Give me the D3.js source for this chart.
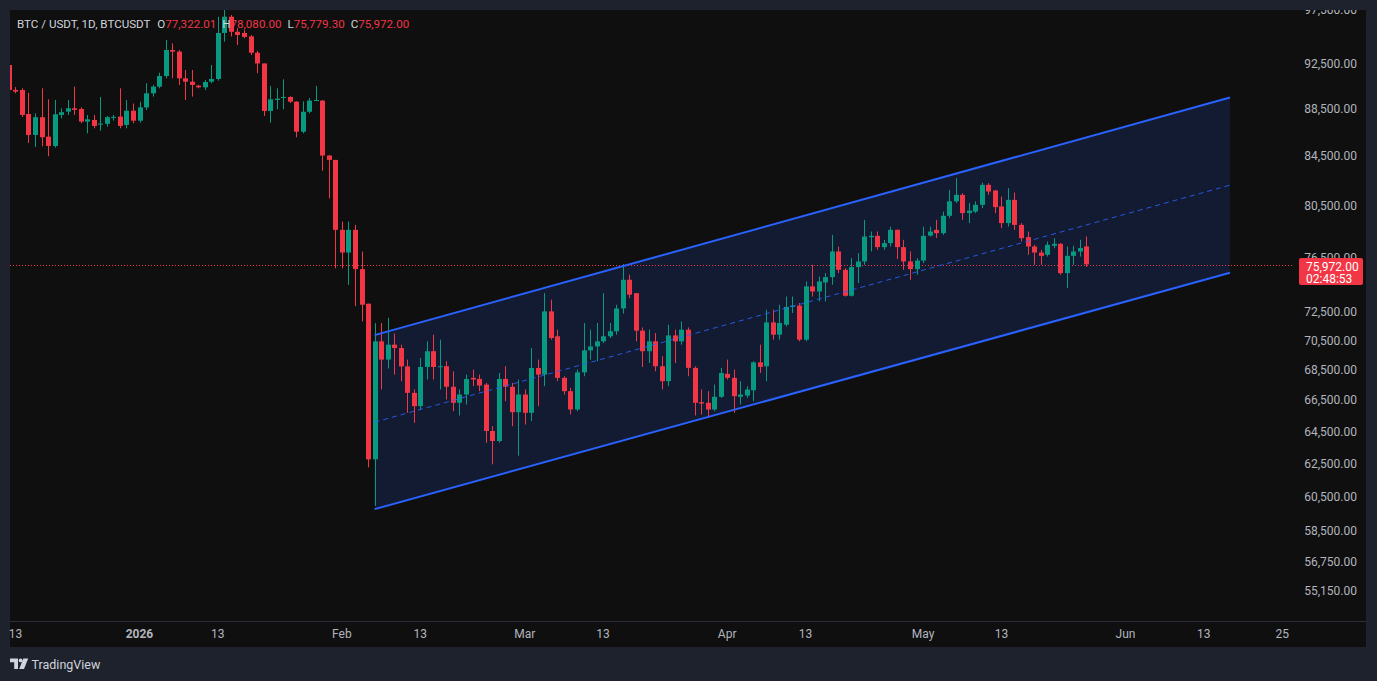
<!DOCTYPE html>
<html><head><meta charset="utf-8">
<script src="https://cdn.jsdelivr.net/npm/d3@7"></script>
<style>html,body{margin:0;padding:0;background:#1e222d;overflow:hidden}</style>
</head><body><svg id="c" width="1377" height="681"></svg>
<script>
// ---------- DATA ----------
const symbolTitle = "BTC / USDT, 1D, BTCUSDT";
const legendLetters = ["O", "H", "L", "C"];
const legendValues = ["77,322.01", "78,080.00", "75,779.30", "75,972.00"];
const firstDay = "2025-12-12";
// daily candles [open, high, low, close]
const dec2025 = [
[92380,92600,89950,90145],[90150,90400,89850,90000],[90145,90300,87800,87965],[88050,89900,85580,86255],
[86255,88100,85250,87770],[87770,90290,85300,86060],[86110,89320,84470,85330],[85330,89265,85190,88020],
[87965,88540,87680,88200],[88250,89265,87965,88540],[88540,90440,87965,88400],[88480,88620,87250,87390],
[87390,87965,86400,87590],[87535,87965,86820,87020],[87130,89530,86620,87220],[87200,87880,86970,87770],
[87740,87965,87480,87800],[87820,90290,86820,87020],[87105,89265,86820,88330],[88330,88950,87250,87470]];
const jan2026 = [
[87470,89120,87300,88620],[88620,90740,88395,89850],[89850,90590,89560,90440],[90440,91690,90290,91390],
[91390,94670,91180,93750],[93750,94360,91180,93600],[93600,93750,90590,91180],[91180,91930,89265,90880],
[90880,91930,89560,90590],[90530,90590,90290,90380],[90380,91030,90145,90850],[90880,92380,90740,91120],
[91120,96860,90970,95330],[95330,97500,94520,96860],[96860,97020,95010,95440],[95440,95770,94210,95140],
[95330,95600,94830,94960],[95010,95140,93290,93500],[93500,93680,91640,92520],[92520,92520,87880,88310],
[88310,90500,87300,89320],[89265,90290,88450,89380],[89440,91090,88450,89530],[89530,89590,89000,89120],
[89120,89150,86060,86530],[86530,89150,86400,88240],[88240,89440,88100,89210],[89210,90500,89150,89265],
[89210,89265,83280,84530],[84530,84580,81060,84170],[84170,84170,75680,78590]];
const feb2026 = [
[78590,79230,75680,76860],[76860,79230,74470,78590],[78590,78975,72930,75620],[75620,76940,71840,73025],
[73100,73100,62260,62750],[62750,71730,59950,70450],[70450,71730,67200,69200],[69200,72100,68600,70220],
[70220,71000,68190,69990],[69990,70220,67750,68740],[68740,69200,65680,66980],[66980,67200,65040,66110],
[66110,69310,65895,68700],[68700,70450,67860,69770],[69770,70910,67860,68700],[68700,70565,67200,68750],
[68750,69090,66545,67380],[67380,68410,65790,66330],[66330,67200,65510,66870],[66870,68190,66220,67900],
[67970,68525,67420,67860],[67900,68190,67090,67460],[67525,67640,63780,64520],[64520,64830,62445,63890],
[63890,68300,63780,67900],[67900,68750,66435,67380],[67380,67640,64830,65720],[65720,67860,62980,66870]];
const mar2026 = [
[66870,67200,64935,65680],[65680,69990,65150,68630],[68630,69200,66110,68190],[68190,73860,67420,72550],
[72550,73385,70565,70680],[70800,71260,67750,67970],[67970,68080,66870,67090],[67090,67310,65575,65895],
[65895,68525,65790,68340],[68340,71730,68080,69830],[69830,71260,69200,70100],[70100,71730,69090,70450],
[70450,73860,70330,70800],[70800,71730,70680,71150],[71150,73025,70910,72760],[72760,76000,72400,74835],
[74835,75200,73500,73745],[73860,73860,70450,71190],[71190,71420,68700,69770],[69770,71260,68970,70450],
[70450,71030,68410,68750],[68750,69430,67200,67750],[67750,71610,67420,70860],[70860,71260,68970,70450],
[70450,71840,70220,71260],[71260,71420,68080,68640],[68640,68750,65510,66330],[66370,67200,65575,66280],
[66330,67090,65360,65895],[65895,67525,65790,66720],[66720,68640,66650,68300]];
const apr2026 = [
[68240,69200,67860,67970],[67970,68525,65680,66760],[66720,67750,66220,66870],[66800,67420,66650,67200],
[67150,69085,66430,69015],[69015,70220,68300,68705],[68745,72670,67750,71770],[71770,72670,70565,70910],
[70910,73025,70565,71730],[71610,73620,71490,72870],[72870,73620,72440,72960],[72960,73150,70450,70565],
[70565,74710,70450,74350],[74350,75940,73620,73980],[73980,75075,73265,74710],[74640,75325,73265,75030],
[75030,78205,74470,76940],[76940,77315,75325,75570],[75570,75695,73620,73670],[73670,76440,73620,75770],
[75770,76820,74590,76190],[76190,79365,75940,78075],[78025,78460,76940,78130],[78130,78460,77065,77270],
[77270,77825,77065,77575],[77575,78840,77315,78590],[78590,78640,76370,77270],[77270,77825,75570,76190],
[76190,76940,74835,75620],[75620,76440,75200,76260]];
const may2026 = [
[76260,78840,76065,78130],[78150,78840,78075,78460],[78590,79365,77970,78335],[78335,80010,78205,79680],
[79680,81730,79500,80820],[80820,82670,80690,81335],[81335,81470,79365,79890],[79890,80690,79110,80090],
[80010,80820,79890,80540],[80540,82320,80280,82135],[82135,82270,81335,81600],[81680,81730,79890,80360],
[80410,81200,78720,79110],[79110,81870,78840,80935],[80935,81520,78590,78975],[78975,79110,77700,77950],
[78030,78460,76690,77315],[77315,77445,75940,76860],[76860,77065,75940,76610],[76690,77700,76560,77445],
[77370,77950,77190,77520],[77520,77575,75200,75325],[75325,77315,74230,76610],[76610,77370,75940,76940],
[76940,77825,76560,77200],[77322.01,78080,75779.3,75972]];

const priceTicks = [97500, 92500, 88500, 84500, 80500, 76500, 72500, 70500, 68500, 66500, 64500, 62500, 60500, 58500, 56750, 55150];
const timeTickDates = ["2025-12-13","2026-01-01","2026-01-13","2026-02-01","2026-02-13","2026-03-01","2026-03-13","2026-04-01","2026-04-13","2026-05-01","2026-05-13","2026-06-01","2026-06-13","2026-06-25"];
const timeTickLabels = ["13","2026","13","Feb","13","Mar","13","Apr","13","May","13","Jun","13","25"];
const channelDates = ["2026-02-06", "2026-06-17"];
const channelUpper = [70880, 89480];
const channelLower = [59760, 75350];
const lastPrice = 75972;
const lastPriceLabel = "75,972.00";
const countdown = "02:48:53";

// ---------- LAYOUT ----------
const W = 1377, H = 681;
const panel = {x0: 10, y0: 10, x1: 1366, y1: 647};
const plot = {x0: 10, y0: 10, x1: 1292, y1: 621};
const UP = "#089981", DOWN = "#f23645", BLUE = "#2962ff";
const FONT = "Roboto, 'Liberation Sans', sans-serif";

const parse = d3.utcParse("%Y-%m-%d");
const x = d3.scaleUtc().domain([Date.UTC(2026,0,1), Date.UTC(2026,5,1)]).range([139.5, 1125.5]);
const y = d3.scaleLog().domain([55150, 97500]).range([591, 10]);

const months = [dec2025, jan2026, feb2026, mar2026, apr2026, may2026];
const start = parse(firstDay);
const candles = [].concat(...months).map((d, i) => ({
  date: d3.utcDay.offset(start, i), o: d[0], h: d[1], l: d[2], c: d[3]
}));

const svg = d3.select("#c");
svg.append("rect").attr("width", W).attr("height", H).attr("fill", "#1e222d");
svg.append("rect").attr("x", panel.x0).attr("y", panel.y0)
  .attr("width", panel.x1 - panel.x0).attr("height", panel.y1 - panel.y0).attr("fill", "#0f0f0f");

const defs = svg.append("defs");
defs.append("clipPath").attr("id", "plotclip").append("rect")
  .attr("x", plot.x0).attr("y", plot.y0).attr("width", plot.x1 - plot.x0).attr("height", plot.y1 - plot.y0);
defs.append("clipPath").attr("id", "panelclip").append("rect")
  .attr("x", panel.x0).attr("y", panel.y0).attr("width", panel.x1 - panel.x0).attr("height", panel.y1 - panel.y0);

// time axis separator
svg.append("line").attr("x1", panel.x0).attr("x2", panel.x1).attr("y1", plot.y1 + 0.5).attr("y2", plot.y1 + 0.5)
  .attr("stroke", "#2a2e39").attr("stroke-width", 1);

const g = svg.append("g").attr("clip-path", "url(#plotclip)");

// channel fill
const cx0 = x(parse(channelDates[0])), cx1 = x(parse(channelDates[1]));
const u0 = y(channelUpper[0]), u1 = y(channelUpper[1]);
const l0 = y(channelLower[0]), l1 = y(channelLower[1]);
g.append("path")
  .attr("d", `M${cx0},${u0}L${cx1},${u1}L${cx1},${l1}L${cx0},${l0}Z`)
  .attr("fill", "rgba(41,98,255,0.15)");

// legend (under candles)
const leg = svg.append("text").attr("x", 17).attr("y", 28)
  .attr("font-family", FONT).attr("font-size", 11.6).attr("fill", "#d1d4dc");
leg.append("tspan").text(symbolTitle);
legendLetters.forEach((k, i) => {
  leg.append("tspan").attr("dx", i === 0 ? 7 : 6).text(k);
  leg.append("tspan").attr("fill", DOWN).text(legendValues[i]);
});

// price line
g.append("line").attr("x1", plot.x0).attr("x2", 1300)
  .attr("y1", Math.round(y(lastPrice)) + 1.5).attr("y2", Math.round(y(lastPrice)) + 1.5)
  .attr("stroke", DOWN).attr("stroke-width", 1).attr("stroke-dasharray", "1,2");

// candles
const bw = 5;
const cg = g.append("g");
candles.forEach(d => {
  const cx = Math.round(x(d.date));
  const col = d.c >= d.o ? UP : DOWN;
  cg.append("rect").attr("x", cx).attr("y", y(d.h)).attr("width", 1)
    .attr("height", Math.max(1, y(d.l) - y(d.h))).attr("fill", col);
  const top = y(Math.max(d.o, d.c)), bot = y(Math.min(d.o, d.c));
  cg.append("rect").attr("x", cx - 2).attr("y", top).attr("width", bw)
    .attr("height", Math.max(1, bot - top)).attr("fill", col);
});

// channel lines
g.append("line").attr("x1", cx0).attr("y1", u0).attr("x2", cx1).attr("y2", u1)
  .attr("stroke", BLUE).attr("stroke-width", 2);
g.append("line").attr("x1", cx0).attr("y1", l0).attr("x2", cx1).attr("y2", l1)
  .attr("stroke", BLUE).attr("stroke-width", 2);
g.append("line").attr("x1", cx0).attr("y1", (u0 + l0) / 2).attr("x2", cx1).attr("y2", (u1 + l1) / 2)
  .attr("stroke", BLUE).attr("stroke-opacity", 0.85).attr("stroke-width", 1).attr("stroke-dasharray", "5,4");

// price axis
const pa = svg.append("g").attr("clip-path", "url(#panelclip)");
pa.selectAll("text.pt").data(priceTicks).join("text").attr("class", "pt")
  .attr("x", 1357).attr("y", d => y(d)).attr("dy", "0.35em")
  .attr("text-anchor", "end").attr("font-family", FONT).attr("font-size", 12)
  .attr("fill", "#b2b5be").text(d => d3.format(",.2f")(d));

// last price label (drawn over the partly hidden 76,500 tick, as in the original)
pa.append("rect").attr("x", 1299).attr("y", 258).attr("width", 64).attr("height", 27)
  .attr("rx", 2).attr("fill", DOWN);
pa.append("text").attr("x", 1306).attr("y", 266.5).attr("dy", "0.35em")
  .attr("font-family", FONT).attr("font-size", 12).attr("fill", "#ffffff").text(lastPriceLabel);
pa.append("text").attr("x", 1306).attr("y", 279).attr("dy", "0.35em")
  .attr("font-family", FONT).attr("font-size", 12).attr("fill", "#ffffff").text(countdown);

// time axis
const ta = svg.append("g");
timeTickDates.forEach((ds, i) => {
  ta.append("text").attr("x", x(parse(ds))).attr("y", 634).attr("dy", "0.35em")
    .attr("text-anchor", "middle").attr("font-family", FONT).attr("font-size", 12)
    .attr("font-weight", timeTickLabels[i] === "2026" ? "bold" : "normal")
    .attr("fill", "#b2b5be").text(timeTickLabels[i]);
});

// TradingView watermark
const wm = svg.append("g").attr("fill", "#d1d4dc");
wm.append("path").attr("d", "M10,658.5H18V669H14.2V662.2H10Z");
wm.append("circle").attr("cx", 20.6).attr("cy", 660.4).attr("r", 1.9);
wm.append("path").attr("d", "M23.3,658.5H28.2L24,669H19.2Z");
wm.append("text").attr("x", 31.5).attr("y", 668.5).attr("font-family", FONT)
  .attr("font-size", 12.5).text("TradingView");
</script>
</body></html>
